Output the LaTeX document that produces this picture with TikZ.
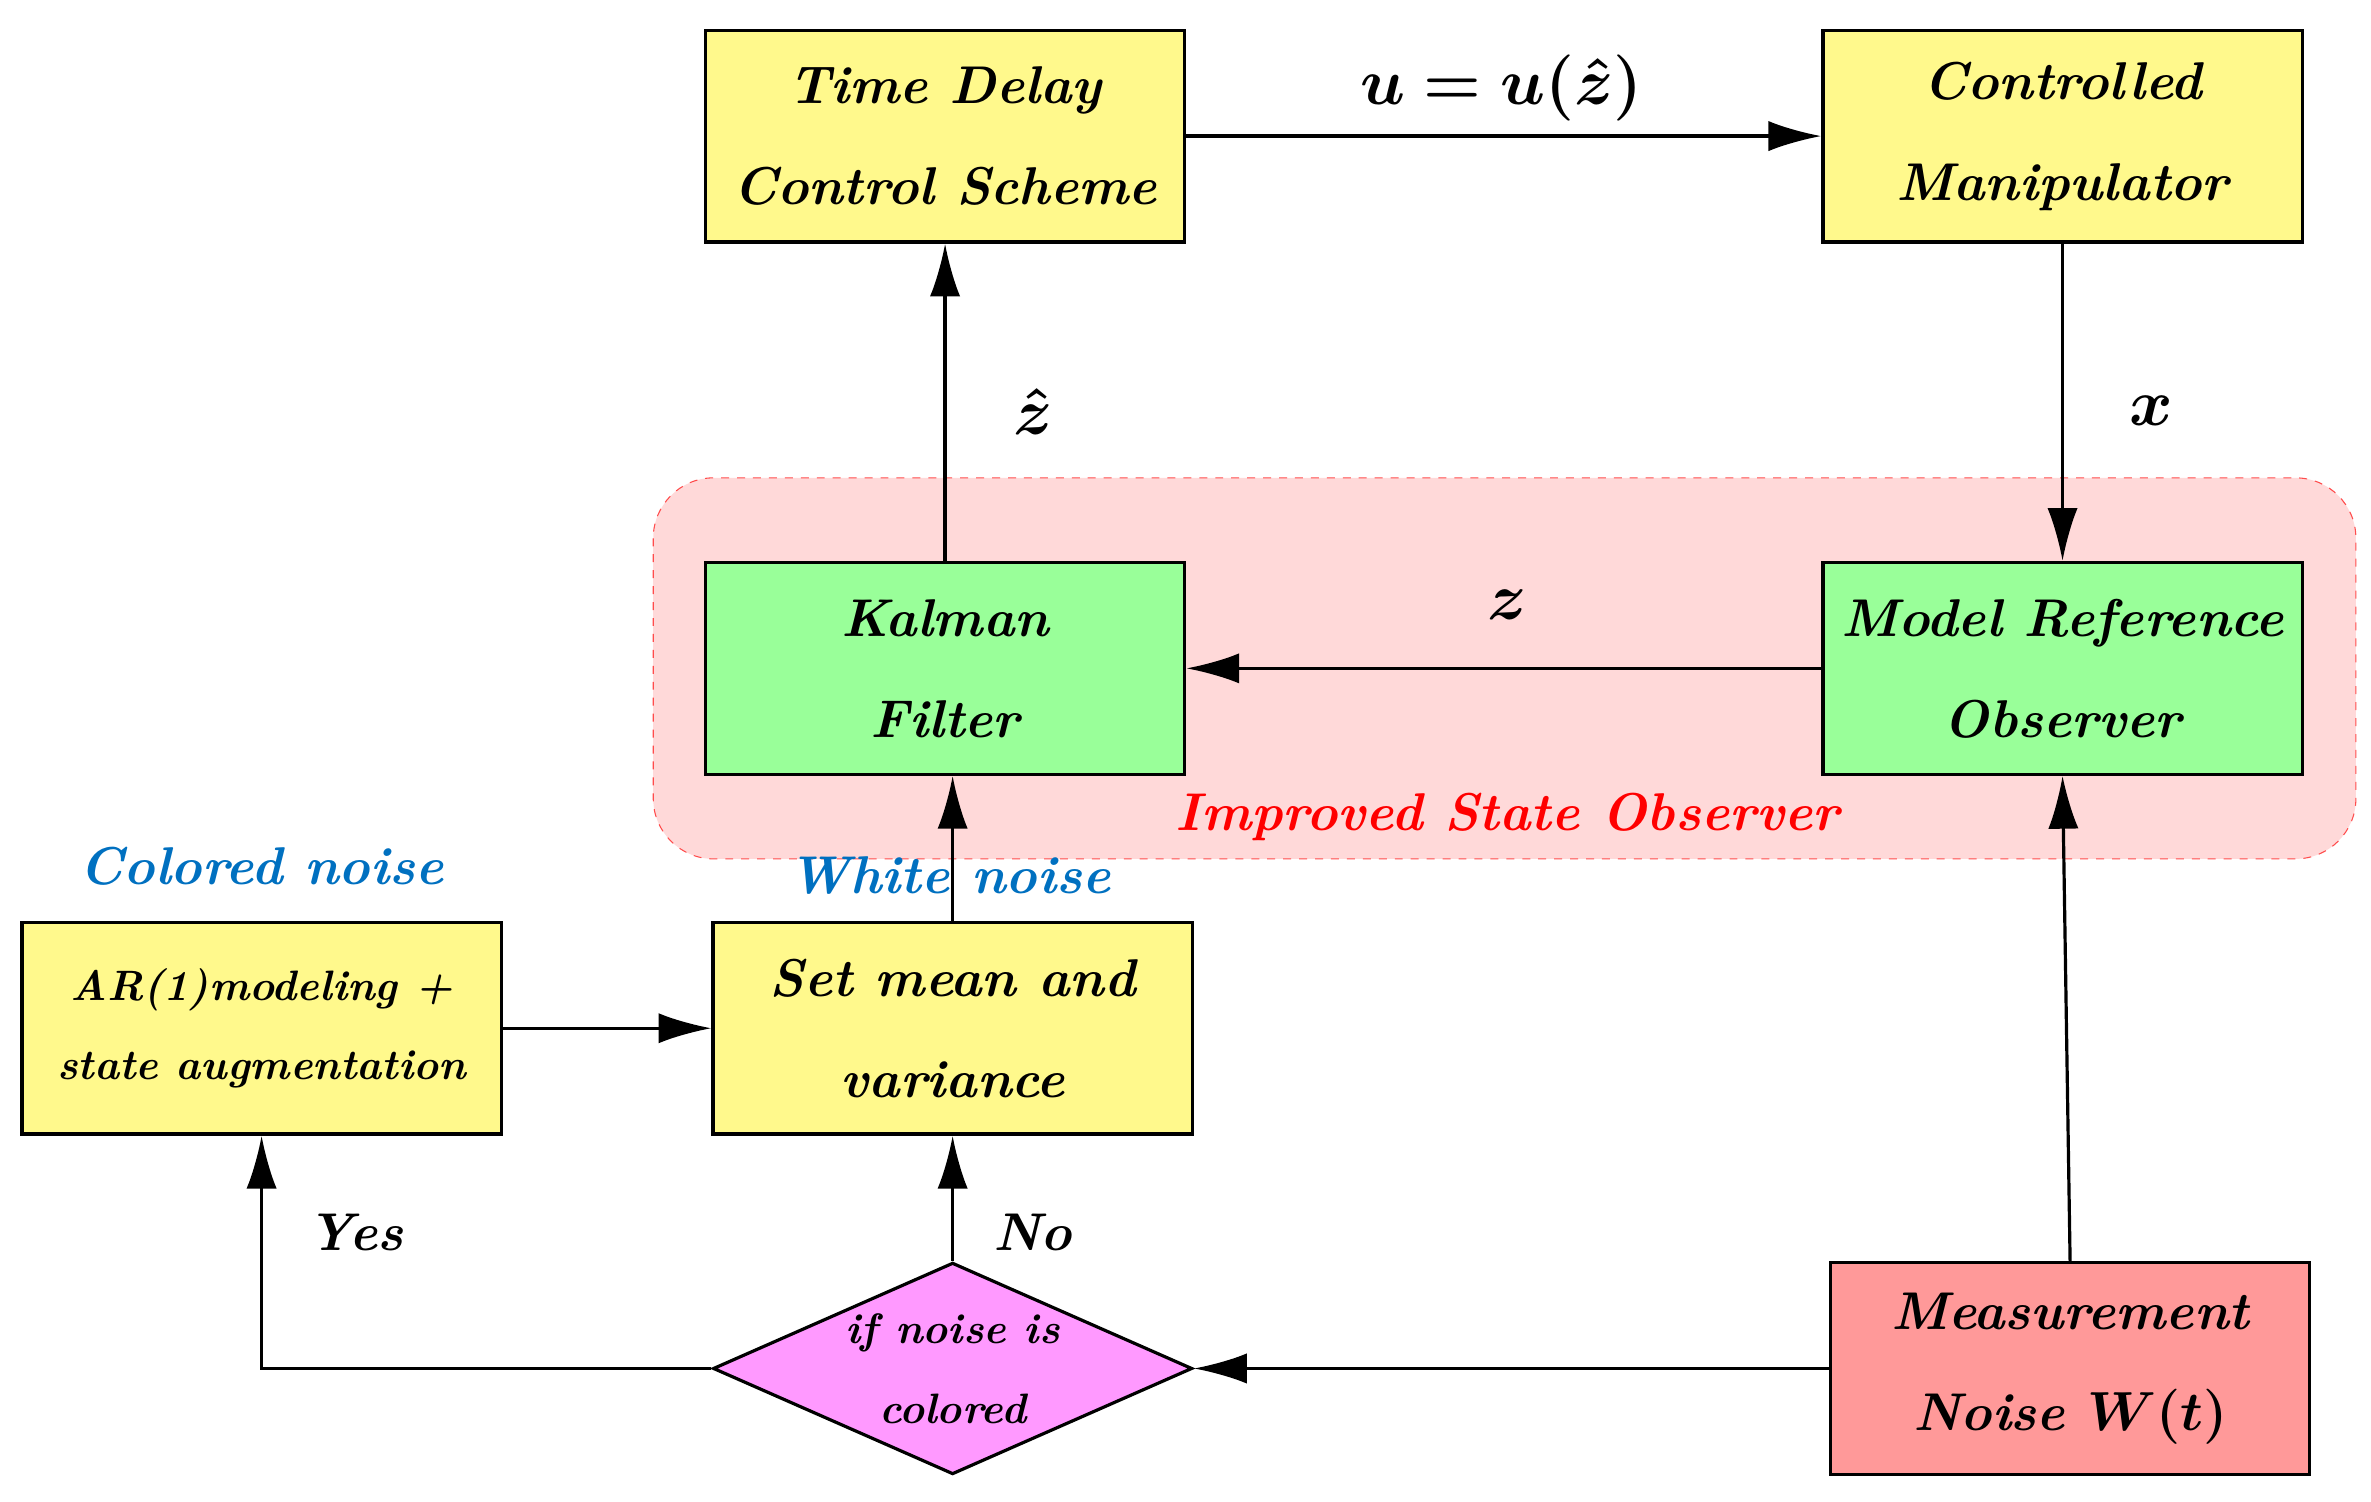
\documentclass[tikz,border=0pt]{standalone}
\usepackage{amsmath,amssymb,bm}
\usetikzlibrary{arrows.meta,shapes.geometric}
\definecolor{nblue}{HTML}{0070C0}
\definecolor{pinkd}{HTML}{FF99FF}
\begin{document}
\begin{tikzpicture}[x=0.02cm,y=-0.02cm,
 every node/.style={font=\fontsize{20}{38}\selectfont\bfseries\itshape},
 box/.style={draw,line width=1.2pt,minimum width=6.34cm,minimum height=2.8cm,align=center,inner sep=0pt},
 yel/.style={box,fill=yellow!45!white},
 grn/.style={box,fill=green!40!white},
 arr/.style={line width=1.2pt,-{Latex[length=7mm,width=4mm]}},
 lab/.style={font=\fontsize{23}{28}\selectfont}]
\useasboundingbox (0,0) rectangle (1568,993);
\draw[red!70,dashed,fill=red!15,rounded corners=0.8cm] (432,316) rectangle (1558,568);
\node[yel] (tdc) at (625,90) {Time Delay\\Control Scheme};
\node[yel] (cm) at (1364,90) {Controlled\\Manipulator};
\node[grn] (kf) at (625,442) {Kalman\\Filter};
\node[grn] (mro) at (1364,442) {Model Reference\\Observer};
\node[yel,font=\fontsize{16}{30}\selectfont\bfseries\itshape] (ar) at (173,680) {AR(1)modeling +\\state augmentation};
\node[yel] (sm) at (630,680) {Set mean and\\variance};
\node[draw,line width=1.2pt,diamond,fill=pinkd,minimum width=6.34cm,minimum height=2.8cm,aspect=2.26,inner sep=0pt,align=center,font=\fontsize{16}{30}\selectfont\bfseries\itshape] (dia) at (630,905) {if noise is\\colored};
\node[box,fill=red!40!white] (mn) at (1369,905) {Measurement\\Noise $\bm{W(t)}$};
\draw[arr] (tdc) -- (cm);
\draw[arr] (cm) -- (mro);
\draw[arr] (mro) -- (kf);
\draw[arr] (kf) -- (tdc);
\draw[arr] (sm.north) -- (sm.north |- kf.south);
\draw[arr] (ar) -- (sm);
\draw[arr] (dia.north) -- (sm.south);
\draw[arr] (dia.west) -| (ar.south);
\draw[arr] (mn) -- (dia.east);
\draw[arr] (mn.north) -- (mro.south);
\node[lab] (l1) at (993,58) {$\bm{u=u(\hat z)}$};
\node[lab] (l2) at (683,272) {$\bm{\hat z}$};
\node[lab] (l3) at (1423,272) {$\bm{x}$};
\node[lab] (l4) at (997,400) {$\bm{z}$};
\node[text=red] (l5) at (997,540) {Improved State Observer};
\node[text=nblue] (l6) at (173,573) {Colored noise};
\node[text=nblue] (l7) at (628,579) {White noise};
\node (l8) at (235,815) {Yes};
\node (l9) at (683,815) {No};
\end{tikzpicture}
\end{document}
